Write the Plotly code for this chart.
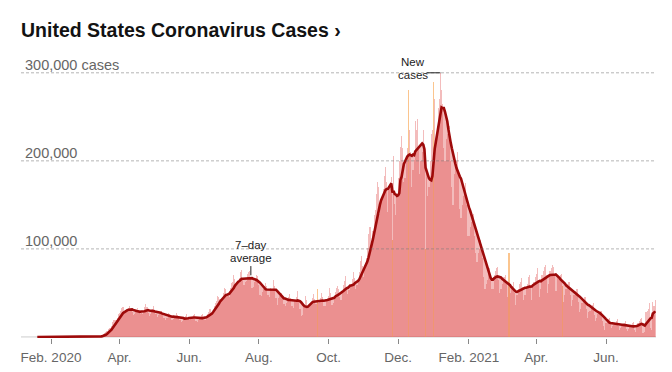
import pandas as pd
import plotly.graph_objects as go

# ---------------- data (values in thousands of cases, one row per week Mon..Sun) ----------------
start_date = "2020-01-20"
daily_cases_k = [
    0, 0, 0, 0, 0, 0, 0,                      # Jan 20
    0, 0, 0, 0, 0, 0, 0,                      # Jan 27
    0, 0, 0, 0, 0, 0, 0,                      # Feb 3
    0, 0, 0, 0, 0, 0, 0,                      # Feb 10
    0, 0, 0, 0, 0, 0, 0,                      # Feb 17
    0, 0, 0, 0, 0, 0, 0.01,                   # Feb 24
    0.02, 0.03, 0.03, 0.05, 0.07, 0.1, 0.12,  # Mar 2
    0.2, 0.3, 0.4, 0.5, 0.6, 0.8, 0.9,        # Mar 9
    1.2, 1.8, 2.9, 4.5, 5.5, 7.0, 8.5,        # Mar 16
    10.5, 10.0, 12.5, 17.5, 19.0, 19.5, 19.0,  # Mar 23
    21.5, 25.5, 27.0, 29.5, 32.5, 33.5, 26.0,  # Mar 30
    29.0, 31.5, 31.0, 33.0, 35.0, 31.5, 28.0,  # Apr 6
    25.0, 26.5, 29.5, 31.0, 33.0, 28.5, 26.0,  # Apr 13
    27.5, 26.0, 28.5, 34.5, 37.0, 33.5, 27.0,  # Apr 20
    24.0, 26.0, 28.5, 31.5, 35.0, 30.0, 26.0,  # Apr 27
    23.0, 24.5, 25.5, 28.5, 29.5, 27.0, 21.0,  # May 4
    19.5, 22.0, 21.5, 27.0, 26.5, 24.5, 19.5,  # May 11
    20.5, 21.0, 22.5, 27.5, 24.5, 23.5, 19.0,  # May 18
    17.5, 18.5, 20.0, 22.5, 24.0, 25.5, 20.0,  # May 25
    19.5, 21.0, 21.0, 22.5, 24.5, 25.5, 18.5,  # Jun 1
    17.5, 19.0, 21.5, 23.0, 25.0, 25.5, 19.5,  # Jun 8
    19.0, 23.5, 25.5, 28.0, 31.5, 32.0, 26.0,  # Jun 15
    31.0, 35.5, 38.5, 40.5, 46.5, 45.0, 43.5,  # Jun 22
    40.5, 44.5, 50.0, 55.5, 54.0, 47.5, 46.0,  # Jun 29
    45.0, 56.0, 61.5, 62.0, 70.5, 65.5, 58.0,  # Jul 6
    59.0, 62.5, 67.5, 73.5, 76.5, 66.0, 58.5,  # Jul 13
    62.0, 63.0, 71.0, 74.0, 75.0, 67.0, 56.0,  # Jul 20
    57.0, 62.0, 66.0, 70.0, 69.0, 59.0, 48.0,  # Jul 27
    47.0, 51.5, 54.5, 57.5, 61.0, 58.0, 48.0,  # Aug 3
    45.5, 55.5, 54.5, 52.0, 65.0, 58.0, 44.5,  # Aug 10
    36.5, 44.5, 46.5, 47.0, 49.5, 45.0, 37.5,  # Aug 17
    35.5, 38.5, 43.0, 45.5, 49.0, 44.0, 35.0,  # Aug 24
    32.5, 41.5, 40.0, 45.5, 52.0, 42.0, 31.5,  # Aug 31
    23.5, 25.0, 33.5, 37.0, 46.5, 42.0, 34.0,  # Sep 7
    34.0, 37.5, 39.0, 44.5, 49.0, 43.5, 37.0,  # Sep 14
    55.0, 38.5, 39.5, 44.0, 49.5, 45.5, 35.5,  # Sep 21
    35.0, 43.0, 40.5, 46.5, 56.0, 49.5, 36.0,  # Sep 28
    38.5, 44.5, 50.5, 56.0, 57.5, 54.5, 45.0,  # Oct 5
    41.5, 52.0, 59.5, 63.5, 69.0, 56.5, 48.5,  # Oct 12
    53.5, 58.0, 60.5, 66.0, 73.5, 66.5, 55.0,  # Oct 19
    58.5, 66.0, 73.5, 86.0, 92.5, 80.5, 68.5,  # Oct 26
    80.5, 90.0, 101.0, 116.5, 124.5, 125.0, 104.5,  # Nov 2
    120, 138, 144, 162, 176, 170, 140,         # Nov 9
    155.5, 160.5, 168, 183, 192.5, 176, 141.5,  # Nov 16
    170, 176.5, 182, 110, 205, 150.5, 138,     # Nov 23
    160, 180.5, 200, 215.5, 228.5, 215, 175.5,  # Nov 30
    180, 205, 215, 280, 235, 210, 170,         # Dec 7
    190, 200.5, 245, 235, 248, 215, 185,       # Dec 14
    200, 210, 235, 200, 100, 185, 160,         # Dec 21
    170, 200, 230, 235, 290, 270, 215,         # Dec 28
    230, 260, 270, 300, 280, 265, 215,         # Jan 4 2021
    200, 225, 230, 235, 240, 200, 170,         # Jan 11
    150, 185, 200, 200, 210, 185, 145,         # Jan 18
    135, 150, 160, 165, 175, 150, 115,         # Jan 25
    115, 125, 130, 135, 140, 115, 95,          # Feb 1
    85, 95, 100, 110, 105, 90, 68,             # Feb 8
    55, 60, 65, 75, 78, 68, 55,                # Feb 15
    55, 70, 75, 78, 80, 65, 50,                # Feb 22
    55, 60, 68, 68, 70, 60, 45,                # Mar 1
    95, 50, 55, 58, 62, 50, 36,                # Mar 8
    48, 55, 60, 62, 67, 57, 42,                # Mar 15
    48, 55, 60, 68, 70, 58, 42,                # Mar 22
    58, 62, 68, 72, 78, 62, 45,                # Mar 29
    55, 70, 75, 80, 82, 70, 50,                # Apr 5
    60, 75, 78, 82, 80, 70, 52,                # Apr 12
    52, 68, 68, 70, 72, 58, 40,                # Apr 19
    48, 55, 60, 62, 62, 48, 35,                # Apr 26
    42, 48, 52, 55, 55, 40, 28,                # May 3
    32, 38, 42, 45, 45, 32, 22,                # May 10
    28, 30, 35, 36, 38, 25, 18,                # May 17
    22, 26, 28, 30, 30, 18, 12,                # May 24
    8, 16, 18, 20, 22, 15, 10,                 # May 31
    12, 14, 16, 18, 20, 12, 8,                 # Jun 7
    10, 13, 15, 16, 18, 9, 7,                  # Jun 14
    9, 12, 14, 16, 17, 8, 6,                   # Jun 21
    14, 16, 18, 20, 22, 5, 4,                  # Jun 28
    6, 28, 30, 32, 38, 10, 8,                  # Jul 5
    40, 35, 42,                                # Jul 12
]
# days with irregular reports (drawn in orange) and the value counted for them in the 7-day average
highlight_dates = ["2020-09-21", "2020-11-26", "2020-12-10", "2020-12-25",
                   "2021-01-01", "2021-03-08", "2021-04-24"]
highlight_avg_k = [36, 110, 225, 100, 230, 50, 58]

x_tick_dates = ["2020-02-01", "2020-04-01", "2020-06-01", "2020-08-01", "2020-10-01",
                "2020-12-01", "2021-02-01", "2021-04-01", "2021-06-01"]
x_tick_labels = ["Feb. 2020", "Apr.", "Jun.", "Aug.", "Oct.", "Dec.", "Feb. 2021", "Apr.", "Jun."]
y_tick_values = [100000, 200000, 300000]
y_tick_labels = ["100,000", "200,000", "300,000 cases"]

title_text = "United States Coronavirus Cases ›"

# ---------------- derived ----------------
dates = pd.date_range(start_date, periods=len(daily_cases_k), freq="D")
cases = pd.Series([v * 1000 for v in daily_cases_k], index=dates)
counted = cases.copy()
for d, v in zip(pd.to_datetime(highlight_dates), highlight_avg_k):
    counted[d] = v * 1000
avg7 = counted.rolling(7, min_periods=1).mean()

hl = set(pd.to_datetime(highlight_dates))
bar_colors = ["rgba(248,150,50,0.55)" if d in hl else "rgba(220,60,58,0.34)" for d in dates]

FONT = "Liberation Sans, Arial, Helvetica, sans-serif"

fig = go.Figure()
fig.add_trace(go.Bar(x=dates, y=cases.values, width=86400000,
                     marker=dict(color=bar_colors, line=dict(width=0)),
                     hoverinfo="skip"))
fig.add_trace(go.Scatter(x=dates, y=avg7.values, mode="none", fill="tozeroy",
                         fillcolor="rgba(220,60,58,0.34)", hoverinfo="skip"))
fig.add_trace(go.Scatter(x=dates, y=avg7.values, mode="lines",
                         line=dict(color="#9e0a0a", width=2.6), hoverinfo="skip"))

shapes = []
for v in y_tick_values:
    shapes.append(dict(type="line", xref="paper", x0=0, x1=1, yref="y", y0=v, y1=v,
                       layer="above", line=dict(color="rgba(120,120,120,0.55)", width=1,
                                                dash="3px,2px")))
# baseline
shapes.append(dict(type="line", xref="paper", x0=0, x1=1, yref="y", y0=0, y1=0,
                   layer="below", line=dict(color="#cccccc", width=1)))
# leader lines for labels
shapes.append(dict(type="line", xref="x", yref="y", x0="2020-07-25", x1="2020-07-25",
                   y0=70000, y1=80500, line=dict(color="#222", width=1)))
shapes.append(dict(type="line", xref="x", yref="y", x0="2020-12-26", x1="2021-01-07",
                   y0=300000, y1=300000, line=dict(color="#222", width=1)))

annotations = []
for v, t in zip(y_tick_values, y_tick_labels):
    annotations.append(dict(xref="paper", x=0, xanchor="left", xshift=2, yref="y", y=v,
                            yanchor="bottom", yshift=-2, text=t, showarrow=False,
                            font=dict(family=FONT, size=14.5, color="#666")))
for txt, x, y, dy in [("7–day", "2020-07-25", 90000, 13), ("average", "2020-07-25", 90000, 0),
                      ("New", "2020-12-14", 297000, 13), ("cases", "2020-12-14", 297000, 0)]:
    annotations.append(dict(xref="x", x=x, yref="y", y=y, yshift=dy,
                            xanchor="center", yanchor="middle",
                            text=txt, showarrow=False,
                            font=dict(family=FONT, size=11.5, color="#222")))

fig.update_layout(
    width=672, height=372,
    margin=dict(l=21, r=16, t=64, b=34),
    paper_bgcolor="white", plot_bgcolor="white",
    showlegend=False, bargap=0,
    title=dict(text=title_text, x=21 / 672, xref="container", xanchor="left",
               y=1 - 30 / 372, yref="container", yanchor="middle",
               font=dict(family=FONT, size=19.5, color="#121212", weight="bold")),
    xaxis=dict(type="date", range=["2020-01-05 17:30", "2021-07-14 18:40"],
               tickvals=x_tick_dates, ticktext=x_tick_labels,
               showgrid=False, zeroline=False, showline=False,
               ticks="outside", ticklen=5, tickcolor="#888", tickwidth=1,
               ticklabelstandoff=2, automargin=False,
               tickfont=dict(family=FONT, size=13.5, color="#666")),
    yaxis=dict(range=[-1200, 310000], showgrid=False, zeroline=False,
               showticklabels=False, showline=False, automargin=False),
    shapes=shapes, annotations=annotations,
)

fig.write_html("out.html", config={"displayModeBar": False},
               post_script="document.body.style.margin='0px';document.body.style.overflow='hidden';")
